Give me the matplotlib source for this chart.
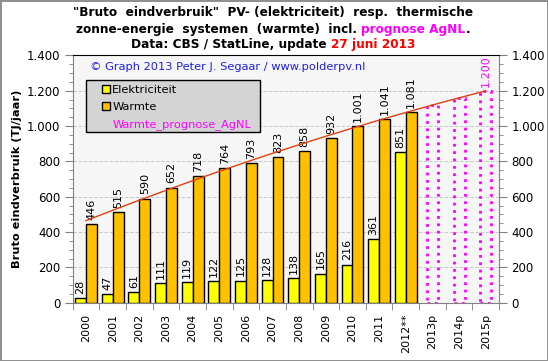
import numpy as np
import matplotlib
matplotlib.use('Agg')
import matplotlib.pyplot as plt
from matplotlib.ticker import FuncFormatter, MultipleLocator
from matplotlib.offsetbox import TextArea, HPacker, AnchoredOffsetbox
from matplotlib.patches import Patch, Rectangle

years = ['2000', '2001', '2002', '2003', '2004', '2005', '2006', '2007',
         '2008', '2009', '2010', '2011', '2012**', '2013p', '2014p', '2015p']
elektriciteit = [28, 47, 61, 111, 119, 122, 125, 128, 138, 165, 216, 361, 851]
warmte = [446, 515, 590, 652, 718, 764, 793, 823, 858, 932, 1001, 1041, 1081]
prognose = [1121, 1161, 1200]

YELLOW = '#ffff00'
ORANGE = '#ffc000'
MAGENTA = '#ff00ff'

def nl(v, pos=None):
    return '{:,.0f}'.format(v).replace(',', '.')

plt.rcParams['font.family'] = 'DejaVu Sans'
fig = plt.figure(figsize=(5.48, 3.61), dpi=100)
fig.patch.set_edgecolor('#909090')
fig.patch.set_linewidth(2)
ax = fig.add_axes([0.1327, 0.1615, 0.7779, 0.6848])
ax.set_facecolor('#f6f6f6')

n = len(elektriciteit)
x = np.arange(n)
w = 0.41
ax.bar(x - 0.205, elektriciteit, w, color=YELLOW, edgecolor='black', lw=1, zorder=3)
ax.bar(x + 0.205, warmte, w, color=ORANGE, edgecolor='black', lw=1, zorder=3)
xp = np.arange(n, n + len(prognose))
ax.bar(xp, prognose, w, facecolor='none', edgecolor=MAGENTA, lw=2, ls=':', zorder=3)

lbl = dict(textcoords='offset points', rotation=90, ha='center', va='bottom', fontsize=8)
for xi, v in zip(x - 0.205, elektriciteit):
    ax.annotate(nl(v), (xi, v), xytext=(0, 3), **lbl)
for xi, v in zip(x + 0.205, warmte):
    ax.annotate(nl(v), (xi, v), xytext=(0, 3), **lbl)
ax.annotate(nl(prognose[-1]), (xp[-1], prognose[-1]), xytext=(0, 3), color=MAGENTA, **lbl)

# trendlijn (2e graads) over warmte + prognose
allx = np.arange(n + len(prognose))
ally = np.array(warmte + prognose)
coef = np.polyfit(allx, ally, 2)
tx = np.linspace(0, allx[-1], 100)
ax.plot(tx, np.polyval(coef, tx), color='#e04010', lw=1, zorder=4)

ax.set_xlim(-0.5, len(years) - 0.5)
ax.set_ylim(0, 1400)
ax.set_xticks(allx)
ax.set_xticklabels(years, rotation=90, fontsize=8)
ax.set_xticks(np.arange(-0.5, len(years)), minor=True)
ax.tick_params(axis='x', which='major', length=0, pad=8)
ax.tick_params(axis='x', which='minor', length=5, color='#808080')

ax.yaxis.set_major_locator(MultipleLocator(200))
ax.yaxis.set_minor_locator(MultipleLocator(50))
ax.yaxis.set_major_formatter(FuncFormatter(nl))
ax.tick_params(axis='y', which='major', length=6, color='#808080', labelsize=8.5,
               right=True, labelright=True, direction='out', pad=3)
ax.tick_params(axis='y', which='minor', length=3, color='#808080', right=True)
ax.grid(axis='y', color='#c8c8c8', ls='--', lw=0.7, zorder=0)
for s in ['left', 'right', 'bottom']:
    ax.spines[s].set_color('#808080')
ax.spines['top'].set_color('black')
ax.set_ylabel('Bruto eindverbruik (TJ/jaar)', fontsize=8.2, fontweight='bold')
ax.yaxis.set_label_coords(-0.118, 0.5)

ax.text(0.04, 0.975, '\u00a9 Graph 2013 Peter J. Segaar / www.polderpv.nl',
        transform=ax.transAxes, fontsize=8.2, color='#2020e0', va='top')

# legenda met eigen kader
ax.add_patch(Rectangle((0.031, 0.6905), 0.4083, 0.2104, transform=ax.transAxes,
                       facecolor='#d4d4d4', edgecolor='black', lw=1, zorder=5))
handles = [Patch(facecolor=YELLOW, edgecolor='black'),
           Patch(facecolor=ORANGE, edgecolor='black'),
           Patch(facecolor='none', edgecolor='none')]
leg = ax.legend(handles, ['Elektriciteit', 'Warmte', 'Warmte_prognose_AgNL'],
                loc='upper left', bbox_to_anchor=(0.0687, 0.879), borderaxespad=0,
                fontsize=8.2, frameon=False, handlelength=0.7,
                handleheight=0.7, handletextpad=0.2, borderpad=0,
                labelspacing=0.58)
leg.set_zorder(6)
leg.get_texts()[2].set_color(MAGENTA)

tp = dict(fontsize=8.7, fontweight='bold')
lines = [
    [('"Bruto  eindverbruik"  PV- (elektriciteit)  resp.  thermische', 'black')],
    [('zonne-energie  systemen  (warmte)  incl. ', 'black'), ('prognose AgNL', MAGENTA), ('.', 'black')],
    [('Data: CBS / StatLine, update ', 'black'), ('27 juni 2013', 'red')],
]
ys = [0.965, 0.919, 0.878]
for parts, yy in zip(lines, ys):
    box = HPacker(children=[TextArea(t, textprops=dict(color=c, **tp)) for t, c in parts],
                  sep=0, pad=0, align='baseline')
    ab = AnchoredOffsetbox(loc='center', child=box, frameon=False, pad=0,
                           bbox_to_anchor=(0.498, yy), bbox_transform=fig.transFigure)
    fig.add_artist(ab)

fig.savefig('out.png', dpi=100)
